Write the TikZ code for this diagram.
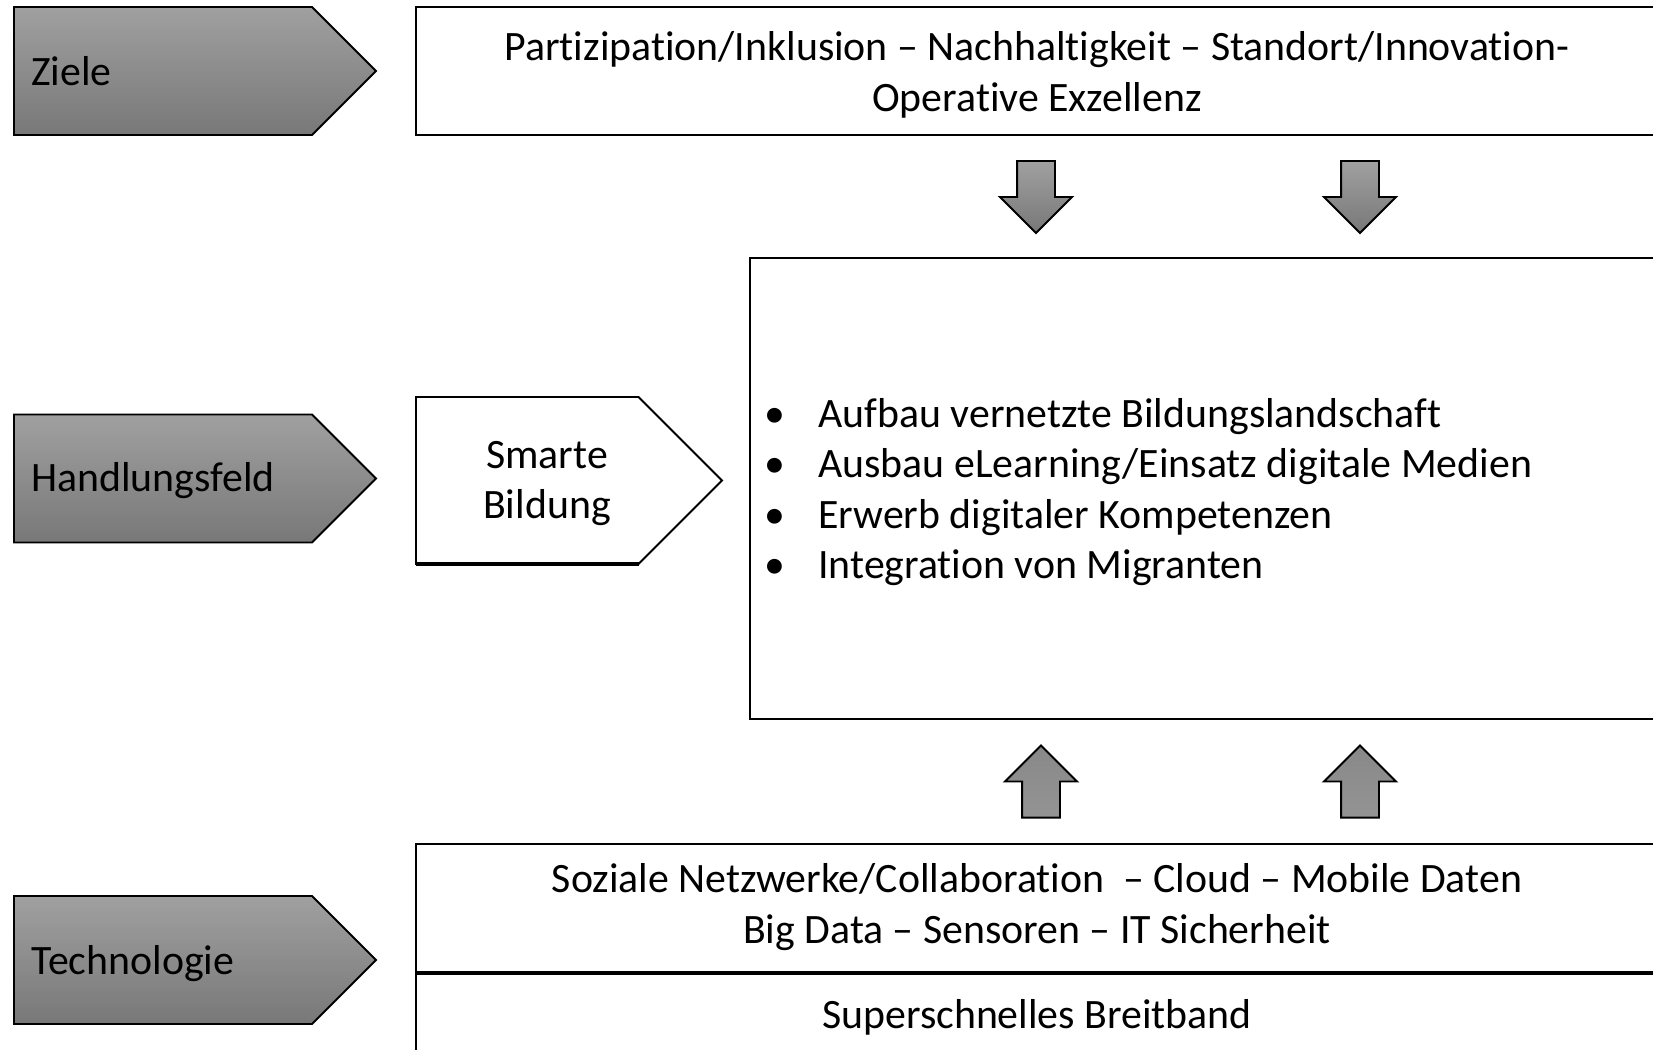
\documentclass[tikz,border=0pt]{standalone}
\usepackage{fontspec}
\setmainfont{Carlito}[Ligatures={TeX,NoCommon}]
\usetikzlibrary{shapes.symbols,shapes.arrows}
\definecolor{shadetop}{RGB}{160,160,160}
\definecolor{shadebottom}{RGB}{120,120,120}
\definecolor{shademid}{RGB}{136,136,136}
\definecolor{shadeup}{RGB}{148,148,148}

\begin{document}
\begin{tikzpicture}[
    stage/.style={signal,signal to=east,signal pointer angle=90,draw,line width=1.1pt,top color=shadetop,bottom color=shadebottom,minimum width=7.24cm,minimum height=2.56cm,inner sep=0pt,outer sep=0pt},
    panel/.style={rectangle,draw,line width=1.1pt,fill=white,inner sep=0pt,outer sep=0pt},
    blockarrow/.style={single arrow,draw,line width=1.1pt,top color=shadetop,bottom color=shadebottom,minimum width=1.4cm,minimum height=1.44cm,single arrow head extend=0.34cm,single arrow head indent=0pt,inner sep=0.36cm},
    txt/.style={font=\fontsize{23.8}{28.7}\selectfont,align=center,inner sep=0pt}
]
    \useasboundingbox (0,0) rectangle (33.06,-20.98);

    % left column
    \node[stage,anchor=west] (ziele) at (0.28,-1.42) {};
    \node[stage,anchor=west] (feld) at (0.28,-9.57) {};
    \node[stage,anchor=west] (tech) at (0.28,-19.2) {};
    \node[txt,anchor=west] at (0.62,-1.43) {Ziele};
    \node[txt,anchor=west] at (0.62,-9.62) {Handlungsfeld};
    \node[txt,anchor=west] at (0.62,-19.28) {Technologie};

    % goals
    \node[panel,minimum width=24.84cm,minimum height=2.56cm] (zielbox) at (20.74,-1.42) {};
    \node[txt] at (20.74,-1.5) {Partizipation/Inklusion – Nachhaltigkeit – Standort/Innovation-\\Operative Exzellenz};

    \node[blockarrow,shape border rotate=270] (down1) at (20.72,-3.75) {};
    \node[blockarrow,shape border rotate=270] (down2) at (27.2,-3.75) {};

    % field of action
    \node[stage,fill=white,top color=white,bottom color=white,minimum width=6.12cm,minimum height=3.34cm,anchor=west] (smart) at (8.32,-9.61) {};
    \node[txt] at (10.94,-9.67) {Smarte\\Bildung};
    \draw[line width=2pt] (smart.south west) -- (smart.south east);

    \node[panel,minimum width=18.16cm,minimum height=9.22cm] (feldbox) at (24.08,-9.77) {};
    \node[txt,align=left,anchor=west] (items) at (15.29,-9.84) {%
        \makebox[1.07cm][l]{\textbullet}Aufbau vernetzte Bildungslandschaft\\
        \makebox[1.07cm][l]{\textbullet}Ausbau eLearning/Einsatz digitale Medien\\
        \makebox[1.07cm][l]{\textbullet}Erwerb digitaler Kompetenzen\\
        \makebox[1.07cm][l]{\textbullet}Integration von Migranten};

    \node[blockarrow,shape border rotate=90,top color=shademid,bottom color=shadeup] (up1) at (20.82,-15.82) {};
    \node[blockarrow,shape border rotate=90,top color=shademid,bottom color=shadeup] (up2) at (27.2,-15.82) {};

    % technology
    \node[panel,minimum width=24.84cm,minimum height=2.58cm] (techbox) at (20.74,-18.17) {};
    \node[txt] at (20.74,-18.14) {Soziale Netzwerke/Collaboration\ \ – Cloud – Mobile Daten\\Big Data – Sensoren – IT Sicherheit};
    \node[panel,minimum width=24.84cm,minimum height=2.6cm,anchor=north] (netbox) at (techbox.south) {};
    \node[txt] at (20.74,-20.34) {Superschnelles Breitband};
    \draw[line width=2.2pt] (techbox.south west) -- (techbox.south east);
\end{tikzpicture}
\end{document}
